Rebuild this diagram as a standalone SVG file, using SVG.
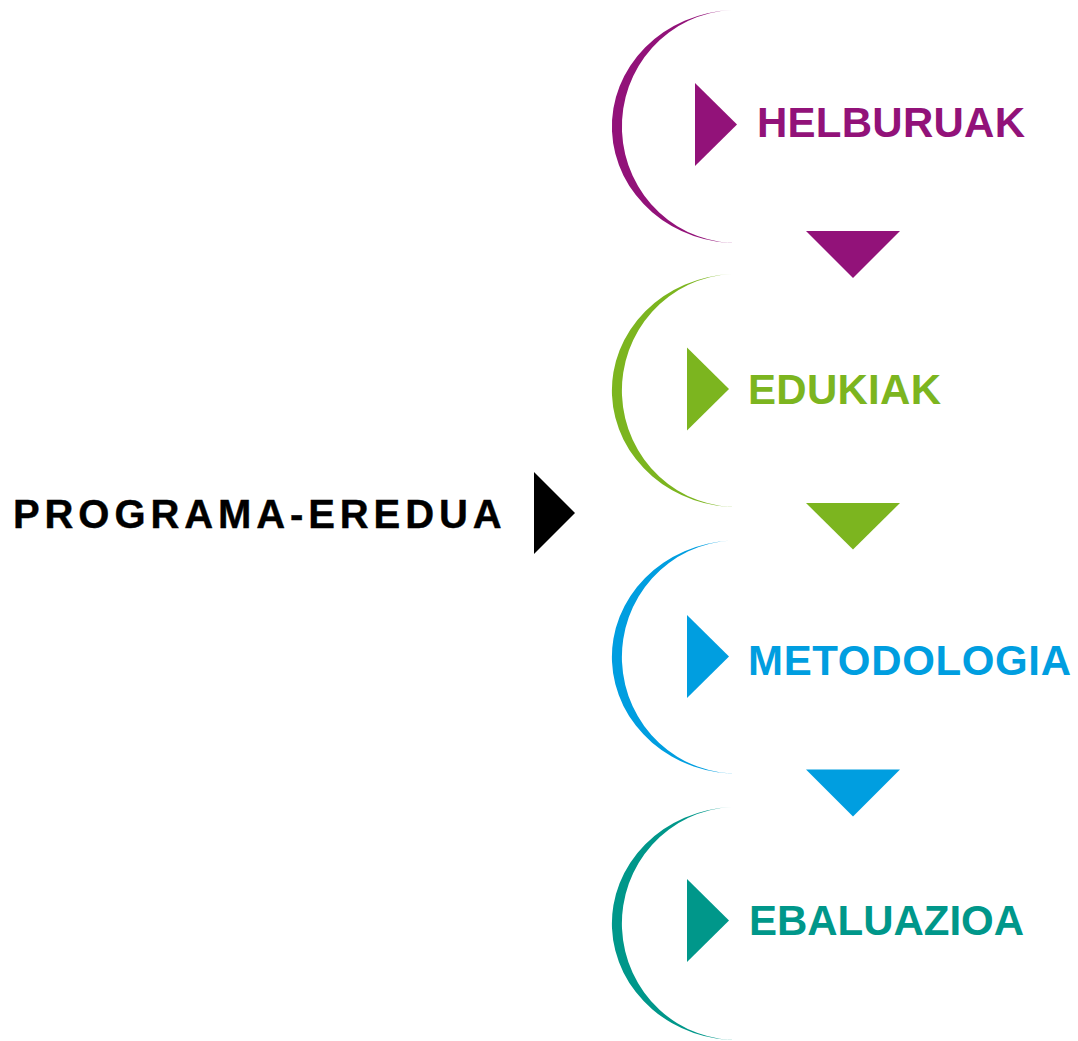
<svg xmlns="http://www.w3.org/2000/svg" width="1078" height="1041" viewBox="0 0 1078 1041">
  <style>
    .label { font-family: "Liberation Sans", Arial, sans-serif; font-weight: bold; font-size: 42px; }
    .main { font-family: "Liberation Sans", Arial, sans-serif; font-weight: bold; font-size: 40px; letter-spacing: 4.9px; fill: #000; stroke: #000; stroke-width: 0.4px; }
    .purple { fill: #921279; }
    .green { fill: #7CB51F; }
    .blue { fill: #009EE0; }
    .teal { fill: #00978A; }
  </style>
  <defs>
    <!-- crescent bracket, drawn around the local origin (vertical centre of the step) -->
    <path id="crescent" d="M732,-116.5 A125,116.5 0 0 0 742,116.5 A115,116.5 0 0 1 732,-116.5 Z"/>
    <!-- small right-pointing marker in front of each step label -->
    <path id="pointer" d="M0,-41.5 L42,0 L0,41.5 Z"/>
  </defs>
  <rect width="1078" height="1041" fill="#fff"/>

  <g id="programa-eredua">
    <text class="main" x="13" y="528">PROGRAMA-EREDUA</text>
    <path d="M534,472 L575,513 L534,554 Z" fill="#000"/>
  </g>

  <g id="helburuak" class="purple">
    <use href="#crescent" transform="translate(0,126.5)"/>
    <use href="#pointer" transform="translate(695,124.5)"/>
    <text class="label" x="757" y="137" textLength="268" lengthAdjust="spacing">HELBURUAK</text>
  </g>

  <g id="edukiak" class="green">
    <use href="#crescent" transform="translate(0,390.5)"/>
    <use href="#pointer" transform="translate(687,389)"/>
    <text class="label" x="748" y="404" textLength="193" lengthAdjust="spacing">EDUKIAK</text>
  </g>

  <g id="metodologia" class="blue">
    <use href="#crescent" transform="translate(0,657)"/>
    <use href="#pointer" transform="translate(687,656.5)"/>
    <text class="label" x="748" y="675" textLength="323" lengthAdjust="spacing">METODOLOGIA</text>
  </g>

  <g id="ebaluazioa" class="teal">
    <use href="#crescent" transform="translate(0,923.5)"/>
    <use href="#pointer" transform="translate(687,920.5)"/>
    <text class="label" x="749" y="935" textLength="275" lengthAdjust="spacing">EBALUAZIOA</text>
  </g>

  <g id="connectors">
    <path class="purple" d="M806,231 L900,231 L853,278 Z"/>
    <path class="green" d="M806,503 L900,503 L853,549.5 Z"/>
    <path class="blue" d="M806,769.5 L900,769.5 L853,816.5 Z"/>
  </g>
</svg>
